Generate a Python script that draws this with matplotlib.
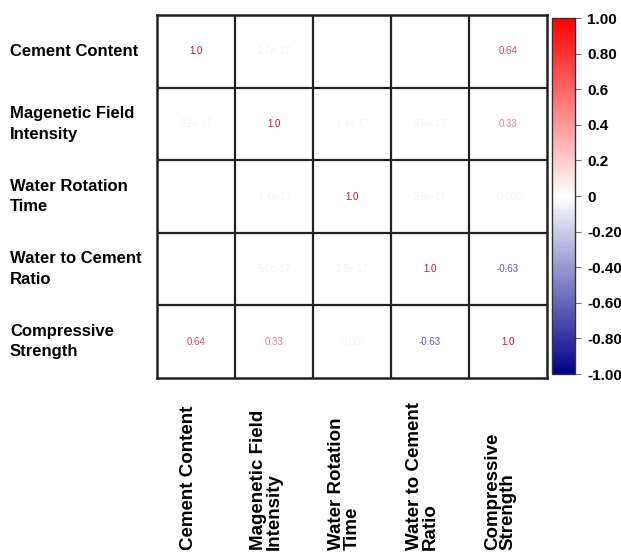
import numpy as np
import matplotlib
matplotlib.use("Agg")
import matplotlib.pyplot as plt
from matplotlib.colors import LinearSegmentedColormap, Normalize
from matplotlib.transforms import blended_transform_factory
import matplotlib.cm as cm

plt.rcParams['font.family'] = ['Liberation Sans', 'DejaVu Sans']

row_labels = ["Cement Content", "Magenetic Field\nIntensity", "Water Rotation\nTime",
              "Water to Cement\nRatio", "Compressive\nStrength"]
col_labels = ["Cement Content", "Magenetic Field\nIntensity", "Water Rotation\nTime",
              "Water to Cement\nRatio", "Compressive\nStrength"]

corr = np.array([
    [1.0,      2.2e-17,  0.0,      0.0,      0.64],
    [2.2e-17,  1.0,     -1.4e-17,  5.6e-17,  0.33],
    [0.0,     -1.4e-17,  1.0,      2.8e-17, -0.0004],
    [0.0,      5.6e-17,  2.8e-17,  1.0,     -0.63],
    [0.64,     0.33,    -0.0004,  -0.63,     1.0],
])

cbar_ticks = [1.0, 0.8, 0.6, 0.4, 0.2, 0.0, -0.2, -0.4, -0.6, -0.8, -1.0]
cbar_ticklabels = ["1.00", "0.80", "0.6", "0.4", "0.2", "0", "-0.20", "-0.40", "-0.60", "-0.80", "-1.00"]

n = len(row_labels)
W, H = 621, 555
fig = plt.figure(figsize=(W / 100, H / 100), dpi=100)

ax = fig.add_axes([157 / W, 1 - 378 / H, 390 / W, 363 / H])
ax.set_xlim(0, n)
ax.set_ylim(n, 0)
ax.set_facecolor('white')
for k in range(1, n):
    ax.axhline(k, color='#222222', lw=1.6)
    ax.axvline(k, color='#222222', lw=1.6)
for s in ax.spines.values():
    s.set_color('#222222')
    s.set_linewidth(1.8)
ax.set_xticks([])
ax.set_yticks([])

txt_cmap = LinearSegmentedColormap.from_list("txt", ["#2a2a90", "#ffffff", "#c8102e"])
norm = Normalize(-1, 1)


def fmt(v):
    if v == 1.0:
        return "1.0"
    if abs(v) < 1e-10:
        return "" if v == 0 else f"{v:.1e}"
    if abs(v) < 0.01:
        return f"{v:.3f}"
    return f"{v:.2f}"


for i in range(n):
    for j in range(n):
        v = corr[i, j]
        s = fmt(v)
        if not s:
            continue
        mag = abs(v) ** 0.6
        c = np.array(txt_cmap(norm(np.sign(v) * mag)))
        if abs(v) < 0.01:
            c = np.array([0.955, 0.955, 0.965, 1.0])
        ax.text(j + 0.5, i + 0.5, s, ha='center', va='center', fontsize=7, color=c)

# row labels
trans_y = blended_transform_factory(fig.transFigure, ax.transData)
for i, lab in enumerate(row_labels):
    fig.text(10 / W, i + 0.5, lab, transform=trans_y, ha='left', va='center',
             fontsize=12, fontweight='bold', linespacing=1.45)

# column labels
trans_x = blended_transform_factory(ax.transData, fig.transFigure)
for j, lab in enumerate(col_labels):
    ax.text(j + 0.4, 1 - 550 / H, lab, transform=trans_x, rotation=90, ha='center',
            va='bottom', fontsize=13.5, fontweight='bold', linespacing=0.9,
            multialignment='left', clip_on=False)

# colorbar
cmap = LinearSegmentedColormap.from_list("bwr2", ["#00008b", "#ffffff", "#ff0000"])
cax = fig.add_axes([552 / W, 1 - 374 / H, 23 / W, 356 / H])
sm = cm.ScalarMappable(norm=norm, cmap=cmap)
cb = fig.colorbar(sm, cax=cax)
cb.set_ticks(cbar_ticks)
cb.set_ticklabels(cbar_ticklabels)
cb.outline.set_edgecolor('#333333')
cb.outline.set_linewidth(1.0)
cax.tick_params(length=4, width=0.8, color='#777777', pad=5, labelsize=11)
for t in cax.get_yticklabels():
    t.set_fontweight('bold')

fig.savefig("out.png", dpi=100)
